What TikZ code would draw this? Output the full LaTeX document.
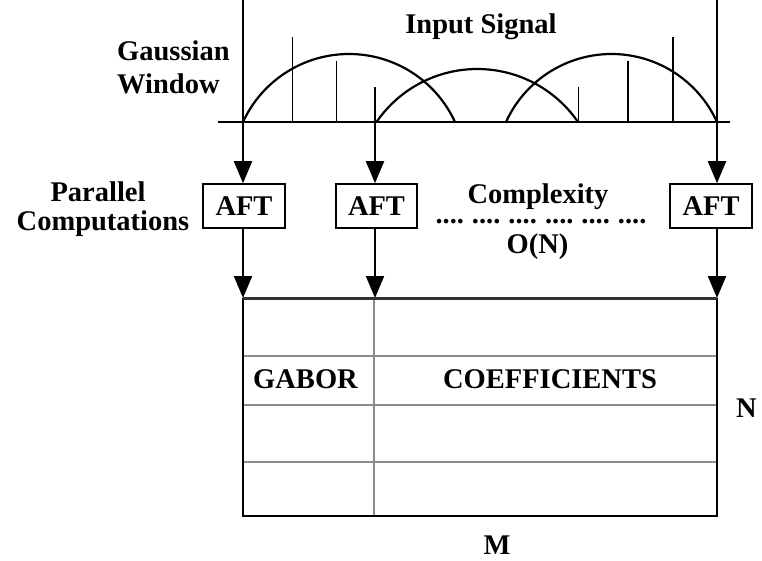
\documentclass[tikz,border=0pt]{standalone}
\usepackage{fontspec}
\setmainfont{Liberation Serif}
\usetikzlibrary{arrows.meta}
\begin{document}
\begin{tikzpicture}[x=1pt,y=-1pt,
  lbl/.style={font=\bfseries\fontsize{28.5}{33}\selectfont, inner sep=0pt, anchor=base},
  aftbox/.style={draw, line width=1.6pt, minimum width=81.5pt, minimum height=44pt, inner sep=0pt, font=\bfseries\fontsize{28.5}{33}\selectfont},
  sigline/.style={line width=2pt},
  tick/.style={line width=1.6pt},
  wave/.style={line width=2.2pt},
  arr/.style={line width=2pt, -{Triangle[length=22pt,width=18pt]}},
  gridline/.style={line width=1.5pt, black!45}
]
\useasboundingbox (0,0) rectangle (762,560);
\frenchspacing

% signal axis and windows
\draw[sigline] (218,122) -- (730,122);
\draw[wave] plot[domain=204.6:335.4, samples=80] ({349+116.6*cos(\x)}, {170.6+116.6*sin(\x)});
\draw[wave] plot[domain=214.5:325.5, samples=80] ({477.25+122.25*cos(\x)}, {191.25+122.25*sin(\x)});
\draw[wave] plot[domain=204.4:335.6, samples=80] ({611.5+115.8*cos(\x)}, {169.8+115.8*sin(\x)});

% samples
\draw[tick] (292.5,37) -- (292.5,122);
\draw[tick] (336.5,61) -- (336.5,122);
\draw[tick] (578.5,87) -- (578.5,122);
\draw[tick] (628,61) -- (628,122);
\draw[tick] (673,37) -- (673,122);

% labels
\node[lbl] (insig) at (481,33) {Input Signal};
\node[lbl, anchor=base west] (gauss1) at (117,60) {Gaussian};
\node[lbl, anchor=base west] (gauss2) at (117,93) {Window};
\node[lbl] (par1) at (98,201) {Parallel};
\node[lbl] (par2) at (103,230) {Computations};
\node[lbl] (cplx) at (538,203) {Complexity};
\node[lbl] (dots) at (541,223) {....\hspace{8pt}....\hspace{8pt}....\hspace{8pt}....\hspace{8pt}....\hspace{8pt}....};
\node[lbl] (ordn) at (537.5,253) {O(N)};

% AFT boxes
\node[aftbox] (aft1) at (244,206) {AFT};
\node[aftbox] (aft2) at (376.5,206) {AFT};
\node[aftbox] (aft3) at (711,206) {AFT};

\coordinate (top1) at (243,0);
\coordinate (top2) at (375,87);
\coordinate (top3) at (717,0);
\coordinate (t1) at (243,298);
\coordinate (t2) at (375,298);
\coordinate (t3) at (717,298);

\draw[arr] (top1) -- (top1 |- aft1.north);
\draw[arr] (top2) -- (top2 |- aft2.north);
\draw[arr] (top3) -- (top3 |- aft3.north);
\draw[arr] (aft1.south -| t1) -- (t1);
\draw[arr] (aft2.south -| t2) -- (t2);
\draw[arr] (aft3.south -| t3) -- (t3);

% coefficient table
\draw[gridline] (243,356) -- (717,356);
\draw[gridline] (243,405) -- (717,405);
\draw[gridline] (243,462) -- (717,462);
\draw[gridline] (374,298) -- (374,516);
\draw[sigline] (t1) -- (243,516) -- (717,516) -- (t3);
\draw[line width=3pt, black!80] (t1) -- (t3);

\node[lbl] (gabor) at (305.5,388) {GABOR};
\node[lbl] (coeff) at (550,388) {COEFFICIENTS};
\node[lbl] (nlab) at (746.5,417) {N};
\node[lbl] (mlab) at (497,554) {M};
\end{tikzpicture}
\end{document}
